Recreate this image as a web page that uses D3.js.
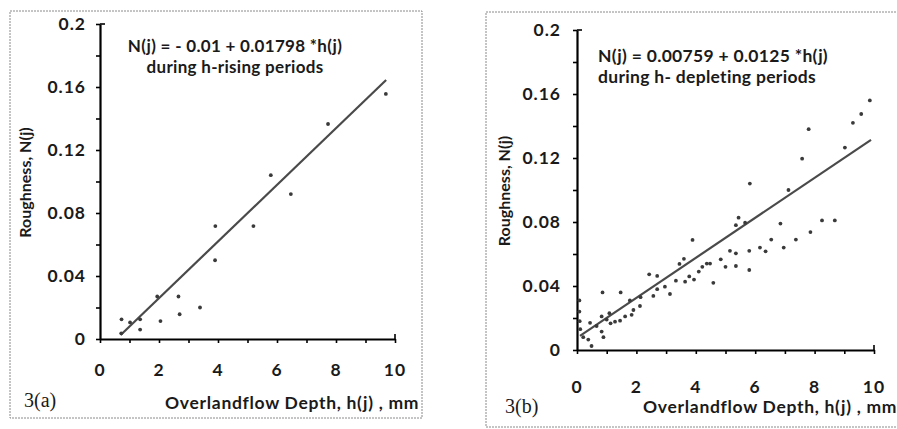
<!DOCTYPE html>
<html>
<head>
<meta charset="utf-8">
<script src="https://cdn.jsdelivr.net/npm/d3@7"></script>
<style>
	body { margin: 0; background: #fff; }
	svg { display: block; }
	text { font-family: Lato, "Open Sans", sans-serif; fill: #1a1a1a; }
</style>
</head>
<body>
<svg id="chart" width="897" height="429"></svg>
<script>
// 3(a) h-rising periods
var risingH = [0.72, 0.73, 1.02, 1.36, 1.36, 1.94, 2.05, 2.66, 2.70, 3.39, 3.91, 3.90, 5.20, 5.79, 6.47, 7.73, 9.69];
var risingN = [0.0036, 0.0125, 0.0105, 0.0125, 0.006, 0.027, 0.0114, 0.027, 0.0157, 0.020, 0.0717, 0.050, 0.0717, 0.104, 0.092, 0.1365, 0.1556];
var risingFit = [-0.01, 0.01798]; // intercept, slope
var risingFitRange = [0.7, 9.7];

// 3(b) h-depleting periods
var depletingH = [0.08, 0.08, 0.09, 0.11, 0.21, 0.38, 0.49, 0.44, 0.66, 0.83, 0.89, 0.86, 0.83, 1.0, 1.09, 1.13,
	1.28, 1.45, 1.47, 1.62, 1.78, 1.84, 1.9, 2.12, 2.14, 2.43, 2.57, 2.70, 2.70, 2.96, 3.13, 3.33, 3.45, 3.60,
	3.64, 3.78, 3.89, 3.94, 4.1, 4.22, 4.37, 4.48, 4.59, 4.84, 5.0, 5.15, 5.35, 5.35, 5.35, 5.44, 5.66, 5.80,
	5.80, 5.82, 6.16, 6.35, 6.54, 6.85, 6.96, 7.12, 7.37, 7.58, 7.80, 7.86, 8.25, 8.68, 9.02, 9.29, 9.57, 9.86];
var depletingN = [0.031, 0.024, 0.018, 0.013, 0.008, 0.0065, 0.0025, 0.017, 0.015, 0.0115, 0.008, 0.036, 0.021, 0.019, 0.023, 0.0167,
	0.0177, 0.0183, 0.036, 0.021, 0.031, 0.022, 0.025, 0.0275, 0.033, 0.0473, 0.0338, 0.0463, 0.038, 0.0396, 0.035, 0.0433, 0.0538, 0.057,
	0.0427, 0.046, 0.0688, 0.044, 0.049, 0.052, 0.054, 0.054, 0.042, 0.0567, 0.052, 0.062, 0.0604, 0.0525, 0.078, 0.0827, 0.0796, 0.062,
	0.050, 0.104, 0.064, 0.0617, 0.069, 0.079, 0.064, 0.100, 0.069, 0.1196, 0.138, 0.0737, 0.081, 0.081, 0.1265, 0.142, 0.1475, 0.156];
var depletingFit = [0.00759, 0.0125];
var depletingFitRange = [0.1, 9.9];

var xTickValues = [0, 1, 2, 3, 4, 5, 6, 7, 8, 9, 10];
var xTickLabels = ["0", "2", "4", "6", "8", "10"];
var yTickValues = [0, 0.02, 0.04, 0.06, 0.08, 0.1, 0.12, 0.14, 0.16, 0.18, 0.2];
var yTickLabels = ["0", "0.04", "0.08", "0.12", "0.16", "0.2"];

var svg = d3.select("#chart");

svg.append("rect")
	.attr("width", 897)
	.attr("height", 429)
	.style("fill", "white");

var panels = [
	{
		tag: "3(a)", h: risingH, n: risingN, fit: risingFit, fitRange: risingFitRange,
		box: [10, 11, 422, 418], xRange: [100, 395], yRange: [339, 24],
		eq: ["N(j) = - 0.01 + 0.01798 *h(j)", "during h-rising periods"],
		eqX: 235, eqY: [52, 73], eqAnchor: "middle", eqSize: 17,
		yTitleX: 27, xTitleX: 165, xTitleY: 409, tagX: 24, tagY: 407,
		xLabelY: 376, yLabelX: 86
	},
	{
		tag: "3(b)", h: depletingH, n: depletingN, fit: depletingFit, fitRange: depletingFitRange,
		box: [486, 12, 905, 427], xRange: [577, 874], yRange: [350, 30],
		eq: ["N(j) = 0.00759 + 0.0125 *h(j)", "during h- depleting periods"],
		eqX: 598, eqY: [62, 83], eqAnchor: "start", eqSize: 17.5,
		yTitleX: 506, xTitleX: 643, xTitleY: 413, tagX: 505, tagY: 413,
		xLabelY: 393, yLabelX: 561
	}
];

panels.forEach(drawPanel);

function drawPanel(p) {
	var g = svg.append("g");

	// scanned frame
	g.append("rect")
		.attr("x", p.box[0])
		.attr("y", p.box[1])
		.attr("width", p.box[2] - p.box[0])
		.attr("height", p.box[3] - p.box[1])
		.style("fill", "none")
		.style("stroke", "#8a8a8a")
		.style("stroke-width", 1)
		.style("stroke-dasharray", "2,1");

	var x = d3.scaleLinear().domain([0, 10]).range(p.xRange);
	var y = d3.scaleLinear().domain([0, 0.2]).range(p.yRange);

	// x axis
	var xAxis = g.append("g")
		.attr("transform", "translate(0," + y(0) + ")")
		.call(d3.axisBottom(x).tickValues(xTickValues).tickSize(4).tickSizeOuter(0).tickFormat(""));
	xAxis.select(".domain").style("stroke-width", 2.2);
	xAxis.selectAll(".tick line").style("stroke-width", 1.6);
	// end hook at 10
	g.append("line")
		.attr("x1", x(10)).attr("x2", x(10))
		.attr("y1", y(0)).attr("y2", y(0) - 5)
		.style("stroke", "black").style("stroke-width", 1.6);

	// y axis
	var yAxis = g.append("g")
		.attr("transform", "translate(" + x(0) + ",0)")
		.call(d3.axisLeft(y).tickValues(yTickValues).tickSize(4).tickSizeOuter(0).tickFormat(""));
	yAxis.select(".domain").style("stroke-width", 2.2);
	yAxis.selectAll(".tick line").style("stroke-width", 1.6);
	g.append("line")
		.attr("x1", x(0)).attr("x2", x(0) + 5)
		.attr("y1", y(0.2)).attr("y2", y(0.2))
		.style("stroke", "black").style("stroke-width", 1.6);

	// tick labels
	g.selectAll(".xlabel")
		.data(xTickLabels)
		.enter()
		.append("text")
		.attr("x", function(d) { return x(+d); })
		.attr("y", p.xLabelY)
		.style("text-anchor", "middle")
		.style("font-size", "17.5px")
		.style("font-weight", "bold")
		.style("letter-spacing", "1px")
		.text(function(d) { return d; });

	g.selectAll(".ylabel")
		.data(yTickLabels)
		.enter()
		.append("text")
		.attr("x", p.yLabelX)
		.attr("y", function(d) { return y(+d) + 6; })
		.style("text-anchor", "end")
		.style("font-size", "17.5px")
		.style("font-weight", "bold")
		.style("letter-spacing", "1px")
		.text(function(d) { return d; });

	// axis titles
	g.append("text")
		.attr("transform", "translate(" + p.yTitleX + "," + (y(0.1) + 1) + ") rotate(-90)")
		.style("text-anchor", "middle")
		.style("dominant-baseline", "middle")
		.style("font-size", "16px")
		.style("font-weight", "bold")
		.text("Roughness, N(j)");

	g.append("text")
		.attr("x", p.xTitleX)
		.attr("y", p.xTitleY)
		.style("font-size", "17.5px")
		.style("font-weight", "bold")
		.style("letter-spacing", "0.7px")
		.text("Overlandflow Depth, h(j) , mm");

	g.append("text")
		.attr("x", p.tagX)
		.attr("y", p.tagY)
		.style("font-family", "'Liberation Serif', 'DejaVu Serif', serif")
		.style("font-size", "20px")
		.text(p.tag);

	// equation
	p.eq.forEach(function(line, i) {
		g.append("text")
			.attr("x", p.eqX)
			.attr("y", p.eqY[i])
			.style("text-anchor", p.eqAnchor)
			.style("font-size", p.eqSize + "px")
			.style("font-weight", "bold")
			.style("letter-spacing", "0.3px")
			.text(line);
	});

	// fitted line
	g.append("line")
		.attr("x1", x(p.fitRange[0]))
		.attr("y1", y(p.fit[0] + p.fit[1] * p.fitRange[0]))
		.attr("x2", x(p.fitRange[1]))
		.attr("y2", y(p.fit[0] + p.fit[1] * p.fitRange[1]))
		.style("stroke", "#4a4a4a")
		.style("stroke-width", 2.2);

	// observations
	g.selectAll(".pt")
		.data(p.h)
		.enter()
		.append("circle")
		.attr("class", "pt")
		.attr("cx", function(d) { return x(d); })
		.attr("cy", function(d, i) { return y(p.n[i]); })
		.attr("r", 1.9)
		.style("fill", "#3a3a3a");
}
</script>
</body>
</html>
